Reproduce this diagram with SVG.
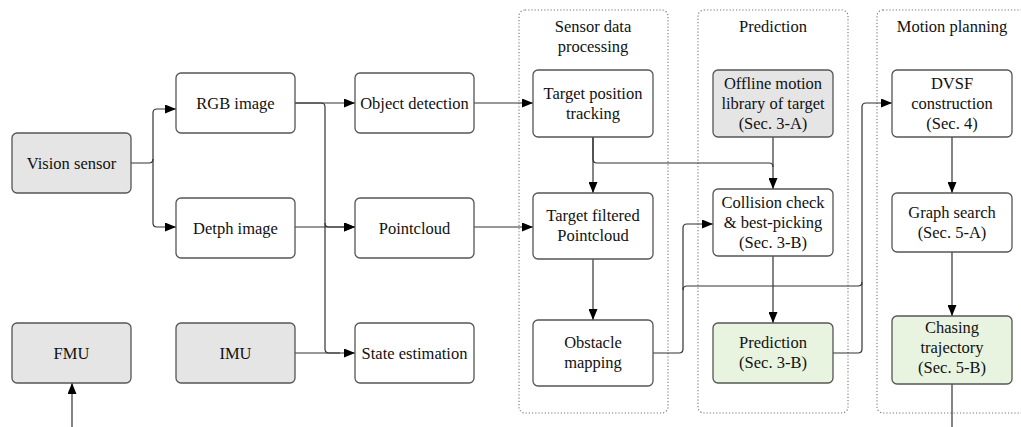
<svg xmlns="http://www.w3.org/2000/svg" width="1021" height="427" viewBox="0 0 1021 427">
<style>
.box{fill:#fff;stroke:#555;stroke-width:1.3}
.gray{fill:#e5e5e5}
.green{fill:#e9f4e0}
.grp{fill:none;stroke:#777;stroke-width:1.1;stroke-dasharray:1.2 2}
.c{fill:none;stroke:#333;stroke-width:1.2}
.a{marker-end:url(#ah)}
</style>
<defs>
<marker id="ah" viewBox="0 0 11 9" refX="11" refY="4.5" markerWidth="11" markerHeight="9" markerUnits="userSpaceOnUse" orient="auto">
<path d="M0,0 L11,4.5 L0,9 Z" fill="#000"/>
</marker>
</defs>
<rect width="1021" height="427" fill="#fff"/>
<g font-family="'Liberation Serif', 'DejaVu Serif', serif" font-size="16.5" fill="#111" text-anchor="middle">
<g id="groups">
<g id="g-sensor"><rect class="grp" x="519" y="10" width="149" height="403" rx="6"/><text x="593" y="32">Sensor data</text><text x="593" y="52">processing</text></g>
<g id="g-pred"><rect class="grp" x="698" y="10" width="150" height="403" rx="6"/><text x="773" y="32">Prediction</text></g>
<g id="g-motion"><rect class="grp" x="877" y="10" width="160" height="403" rx="6"/><text x="952" y="32">Motion planning</text></g>
</g>

<g id="connectors">
<path class="c a" d="M131,163 H149 q4,0 4,-4 V113 q0,-4 4,-4 H176"/>
<path class="c a" d="M153,159 V223 q0,4 4,4 H176"/>
<path class="c a" d="M295,103 H355"/>
<path class="c" d="M295,103 H321 q4,0 4,4 V349 q0,4 4,4 H340"/>
<path class="c a" d="M325,223 q0,4 4,4 H355"/>
<path class="c a" d="M295,227 H355"/>
<path class="c a" d="M295,353 H355"/>
<path class="c a" d="M474,103 H533"/>
<path class="c a" d="M474,227 H533"/>
<path class="c a" d="M593,137 V193"/>
<path class="c" d="M593,137 V159 q0,4 4,4 H769 q4,0 4,4"/>
<path class="c a" d="M773,137 V189"/>
<path class="c a" d="M593,259 V320"/>
<path class="c" d="M653,353 H679 q4,0 4,-4 V290 q0,-4 4,-4 H858 q4,0 4,-4"/>
<path class="c a" d="M683,290 V228 q0,-4 4,-4 H713"/>
<path class="c a" d="M773,256 V323"/>
<path class="c a" d="M833,353 H858 q4,0 4,-4 V107 q0,-4 4,-4 H892"/>
<path class="c a" d="M952,137 V193"/>
<path class="c a" d="M952,252 V316"/>
<path class="c" d="M952,384 V427"/>
<path class="c a" d="M72,427 V383"/>
</g>

<g id="n-vision"><rect class="box gray" x="12" y="133" width="119" height="60" rx="5"/><text x="71.5" y="168.5">Vision sensor</text></g>
<g id="n-rgb"><rect class="box" x="176" y="73" width="119" height="60" rx="5"/><text x="235.5" y="108.5">RGB image</text></g>
<g id="n-depth"><rect class="box" x="176" y="198" width="119" height="60" rx="5"/><text x="235.5" y="233.5">Detph image</text></g>
<g id="n-fmu"><rect class="box gray" x="12" y="323" width="119" height="60" rx="5"/><text x="71.5" y="358.5">FMU</text></g>
<g id="n-imu"><rect class="box gray" x="176" y="323" width="119" height="60" rx="5"/><text x="235.5" y="358.5">IMU</text></g>
<g id="n-objdet"><rect class="box" x="355" y="73" width="119" height="60" rx="5"/><text x="414.5" y="108.5">Object detection</text></g>
<g id="n-pointcloud"><rect class="box" x="355" y="198" width="119" height="60" rx="5"/><text x="414.5" y="233.5">Pointcloud</text></g>
<g id="n-state"><rect class="box" x="355" y="323" width="119" height="60" rx="5"/><text x="414.5" y="358.5">State estimation</text></g>

<g id="n-tracking"><rect class="box" x="533" y="70" width="120" height="67" rx="5"/><text x="593" y="98.5">Target position</text><text x="593" y="118.5">tracking</text></g>
<g id="n-filtered"><rect class="box" x="533" y="193" width="120" height="66" rx="5"/><text x="593" y="221">Target filtered</text><text x="593" y="241">Pointcloud</text></g>
<g id="n-obstacle"><rect class="box" x="533" y="320" width="120" height="66" rx="5"/><text x="593" y="348">Obstacle</text><text x="593" y="368">mapping</text></g>

<g id="n-library"><rect class="box gray" x="713" y="70" width="120" height="67" rx="5"/><text x="773" y="88.5">Offline motion</text><text x="773" y="108.5">library of target</text><text x="773" y="128.5">(Sec. 3-A)</text></g>
<g id="n-collision"><rect class="box" x="713" y="189" width="120" height="67" rx="5"/><text x="773" y="207.5">Collision check</text><text x="773" y="227.5">&amp; best-picking</text><text x="773" y="247.5">(Sec. 3-B)</text></g>
<g id="n-prediction"><rect class="box green" x="713" y="323" width="120" height="60" rx="5"/><text x="773" y="348">Prediction</text><text x="773" y="368">(Sec. 3-B)</text></g>

<g id="n-dvsf"><rect class="box" x="892" y="70" width="120" height="67" rx="5"/><text x="952" y="88.5">DVSF</text><text x="952" y="108.5">construction</text><text x="952" y="128.5">(Sec. 4)</text></g>
<g id="n-graph"><rect class="box" x="892" y="193" width="120" height="59" rx="5"/><text x="952" y="217.5">Graph search</text><text x="952" y="237.5">(Sec. 5-A)</text></g>
<g id="n-chasing"><rect class="box green" x="892" y="316" width="120" height="68" rx="5"/><text x="952" y="333">Chasing</text><text x="952" y="353">trajectory</text><text x="952" y="373">(Sec. 5-B)</text></g>
</g>
</svg>
